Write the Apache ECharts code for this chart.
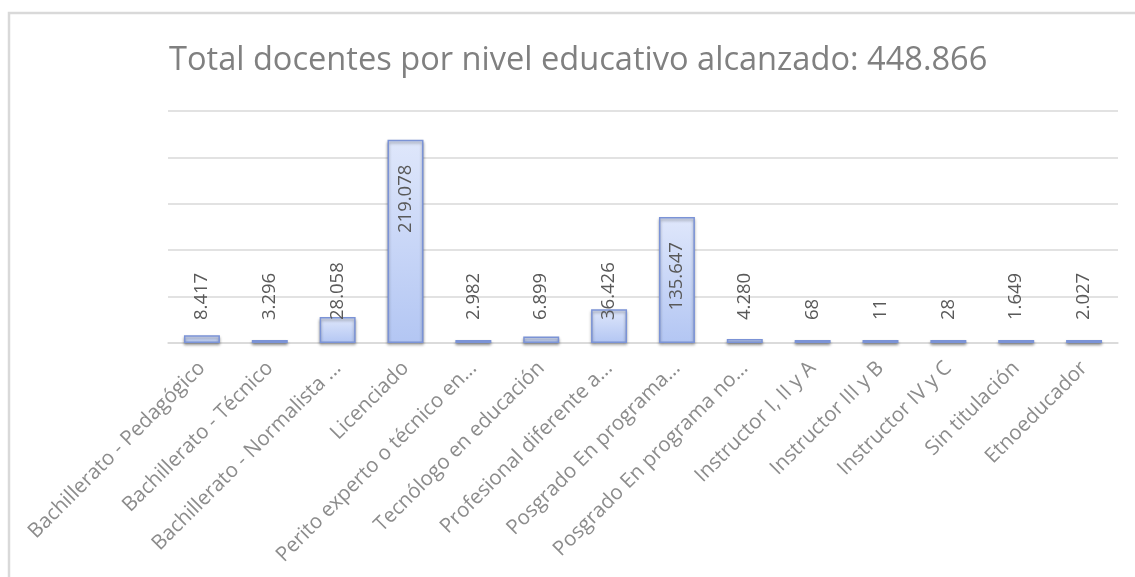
<!DOCTYPE html>
<html>
<head>
<meta charset="utf-8">
<script src="https://cdn.jsdelivr.net/npm/echarts@6/dist/echarts.min.js"></script>
<style>
  html, body { margin: 0; padding: 0; background: #ffffff; }
  #chart { width: 1135px; height: 577px; }
</style>
</head>
<body>
<div id="chart"></div>
<script>
// Docentes por nivel educativo alcanzado
const categories = [
  'Bachillerato - Pedagógico',
  'Bachillerato - Técnico',
  'Bachillerato - Normalista ...',
  'Licenciado',
  'Perito experto o técnico en...',
  'Tecnólogo en educación',
  'Profesional diferente a...',
  'Posgrado En programa...',
  'Posgrado En programa no...',
  'Instructor I, II y A',
  'Instructor III y B',
  'Instructor IV y C',
  'Sin titulación',
  'Etnoeducador'
];
const docentes = [8417, 3296, 28058, 219078, 2982, 6899, 36426, 135647, 4280, 68, 11, 28, 1649, 2027];
const yTicks = { min: 0, max: 250000, interval: 50000 };

const FONT = '"Open Sans", "DejaVu Sans", sans-serif';
const fmt = v => String(v).replace(/\B(?=(\d{3})+(?!\d))/g, '.');
const total = docentes.reduce((a, b) => a + b, 0);

// tall bars carry their label inside the top; short ones stack it above the base
const seriesData = docentes.map(v => {
  const tall = v > 100000;
  return {
    value: v,
    label: tall
      ? { position: 'insideTop', distance: 25, align: 'right' }
      : { position: 'insideBottom', distance: 23, align: 'left' }
  };
});

const chart = echarts.init(document.getElementById('chart'));
chart.setOption({
  animation: false,
  backgroundColor: '#ffffff',
  title: {
    text: 'Total docentes por nivel educativo alcanzado: ' + fmt(total),
    left: 164,
    top: 39,
    textStyle: { fontFamily: FONT, fontSize: 32.6, fontWeight: 'normal', color: '#808080' }
  },
  graphic: [{
    type: 'rect',
    shape: { x: 9, y: 13, width: 1200, height: 700 },
    style: { fill: 'none', stroke: '#d9d9d9', lineWidth: 2.5 },
    silent: true
  }],
  grid: { left: 168, right: 17, top: 111, bottom: 234 },
  xAxis: {
    type: 'category',
    data: categories,
    axisLine: { lineStyle: { color: '#d9d9d9', width: 1.5 } },
    axisTick: { show: false },
    axisLabel: {
      interval: 0,
      rotate: 45,
      margin: 22,
      fontFamily: FONT,
      fontSize: 20.5,
      color: '#8c8c8c'
    }
  },
  yAxis: {
    type: 'value',
    min: yTicks.min,
    max: yTicks.max,
    interval: yTicks.interval,
    axisLabel: { show: false },
    axisLine: { show: false },
    axisTick: { show: false },
    splitLine: { lineStyle: { color: '#d9d9d9', width: 1.5 } }
  },
  series: [{
    type: 'bar',
    data: seriesData,
    barWidth: '53%',
    barMinHeight: 3,
    itemStyle: {
      color: new echarts.graphic.LinearGradient(0, 0, 0, 1, [
        { offset: 0, color: '#dfe7fb' },
        { offset: 1, color: '#b3c6f3' }
      ]),
      borderColor: '#7b93d6',
      borderWidth: 1.5,
      shadowColor: 'rgba(0,0,0,0.35)',
      shadowBlur: 3,
      shadowOffsetY: 2
    },
    label: {
      show: true,
      rotate: 90,
      verticalAlign: 'middle',
      fontFamily: FONT,
      fontSize: 18.5,
      color: '#595959',
      formatter: p => fmt(p.value)
    }
  }]
});
</script>
</body>
</html>
